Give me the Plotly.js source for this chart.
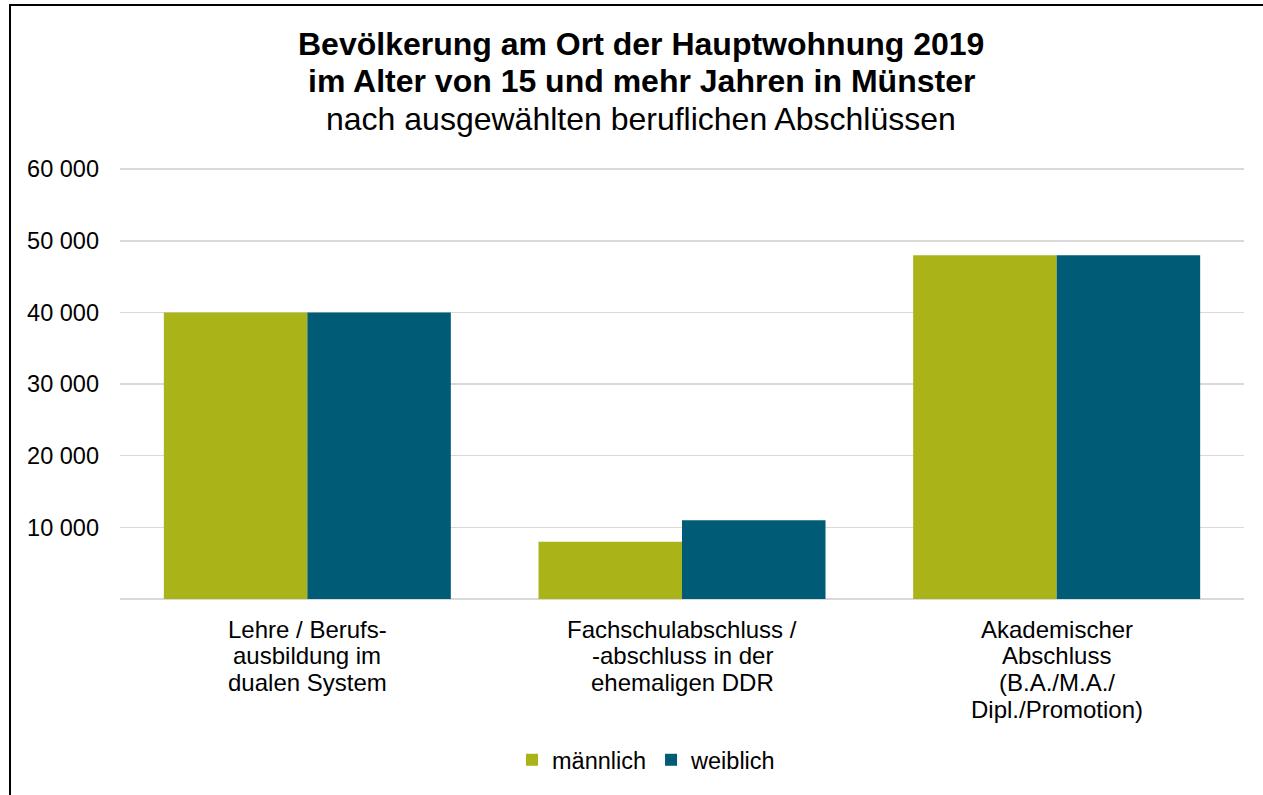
<!DOCTYPE html>
<html>
<head>
<meta charset="utf-8">
<script src="https://cdn.plot.ly/plotly-3.0.1.min.js"></script>
<style>
  body { margin: 0; overflow: hidden; background: #fff; }
  #frame { position: absolute; left: 9px; top: 4px; width: 1300px; height: 850px;
           border: 2px solid #000; pointer-events: none; }
</style>
</head>
<body>
<div id="chart" style="width:1263px;height:795px;"></div>
<div id="frame"></div>
<script>
// categories and values
var categories = [
    "Lehre / Berufs-<br>ausbildung im<br>dualen System",
    "Fachschulabschluss /<br>-abschluss in der<br>ehemaligen DDR",
    "Akademischer<br>Abschluss<br>(B.A./M.A./<br>Dipl./Promotion)"
];
var maennlich = [40000, 8000, 48000];
var weiblich = [40000, 11000, 48000];
var yTicks = [10000, 20000, 30000, 40000, 50000, 60000];
var titleLines = [
    "<b>Bevölkerung am Ort der Hauptwohnung 2019</b>",
    "<b>im Alter von 15 und mehr Jahren in Münster</b>",
    "nach ausgewählten beruflichen Abschlüssen"
];

var font = "Liberation Sans, Arial, sans-serif";
var plotTop = 169, plotBottom = 599;   // pixel rows of 60 000 and 0
var ymax = 61000;
var pxTop = Math.round(plotBottom - (plotBottom - plotTop) * ymax / 60000);

// pixel row -> paper y
function py(row) {
    return (plotBottom - row) / (plotBottom - pxTop);
}

var traces = [
    {x: categories, y: maennlich, type: 'bar', name: 'männlich',
     marker: {color: 'rgb(170,180,24)'}, hoverinfo: 'none'},
    {x: categories, y: weiblich, type: 'bar', name: 'weiblich',
     marker: {color: 'rgb(0,91,118)'}, hoverinfo: 'none'}
];

var annotations = [];

// title, one line each so the line spacing can be tighter than plotly's
var titleRows = [44, 81, 119];
titleLines.forEach(function(t, i) {
    annotations.push({
        text: t, xref: 'paper', yref: 'paper',
        x: (641 - 120) / 1124, y: py(titleRows[i]),
        xanchor: 'center', yanchor: 'middle', showarrow: false,
        font: {family: font, size: 32, color: '#000'}
    });
});

// category labels, split into lines
categories.forEach(function(c) {
    c.split('<br>').forEach(function(line, j) {
        annotations.push({
            text: line, xref: 'x', yref: 'paper',
            x: c, y: py(629 + j * 26.7),
            xanchor: 'center', yanchor: 'middle', showarrow: false,
            font: {family: font, size: 24, color: '#000'}
        });
    });
});

var layout = {
    width: 1263,
    height: 795,
    font: {family: font, size: 23.5, color: '#000'},
    separators: ', ',
    paper_bgcolor: '#fff',
    plot_bgcolor: '#fff',
    barmode: 'group',
    bargap: 0.234,
    bargroupgap: 0,
    margin: {l: 120, r: 19, t: pxTop, b: 795 - plotBottom, pad: 0},
    xaxis: {
        type: 'category',
        showgrid: false,
        showline: false,
        zeroline: false,
        ticks: '',
        showticklabels: false
    },
    yaxis: {
        range: [0, ymax],
        tickvals: yTicks,
        tickformat: ',d',
        showgrid: true,
        gridcolor: '#d9d9d9',
        gridwidth: 1.5,
        zeroline: true,
        zerolinecolor: '#d9d9d9',
        zerolinewidth: 1.5,
        showline: false,
        ticks: '',
        ticklabelstandoff: 20,
        tickfont: {family: font, size: 23.5}
    },
    annotations: annotations,
    showlegend: true,
    legend: {
        orientation: 'h',
        xref: 'container', yref: 'container',
        x: 512 / 1263, xanchor: 'left',
        y: 1 - 738 / 795, yanchor: 'top',
        font: {family: font, size: 23.5},
        itemwidth: 30,
        traceorder: 'normal'
    }
};

Plotly.newPlot('chart', traces, layout, {displayModeBar: false, staticPlot: true});
</script>
</body>
</html>
